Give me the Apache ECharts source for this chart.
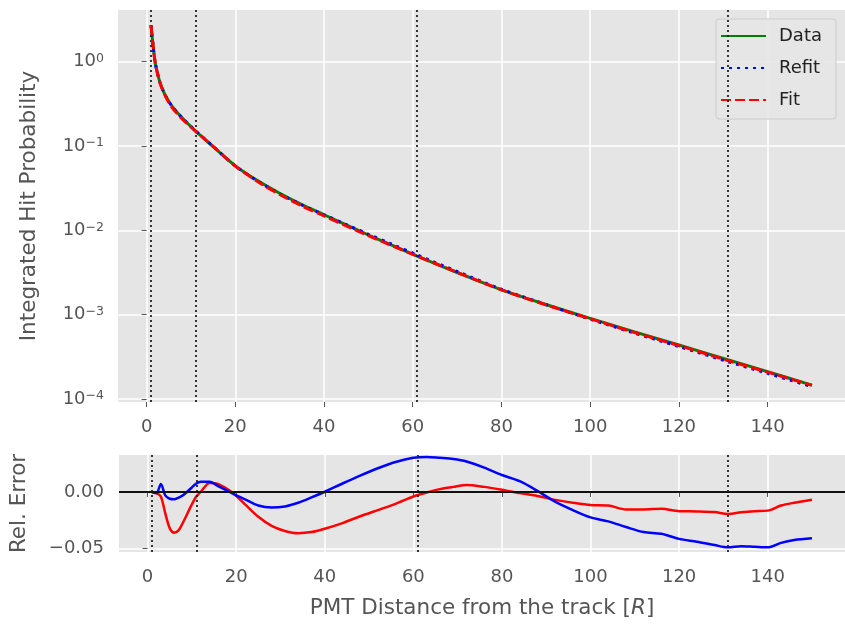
<!DOCTYPE html>
<html>
<head>
<meta charset="utf-8">
<script src="https://cdn.jsdelivr.net/npm/echarts@6/dist/echarts.min.js"></script>
<style>html,body{margin:0;padding:0;background:#fff;}#c{width:845px;height:624px;}</style>
</head>
<body>
<div id="c"></div>
<script>
// ---- data ----
const xMain = [1, 1.5, 2, 3, 4, 5, 6, 8, 11, 13, 15, 20, 25, 30, 35, 40, 45, 50, 55, 61, 70, 80, 90, 100, 110, 120, 131, 140, 150];
const dataProb = [2.69, 1.48, 0.933, 0.569, 0.422, 0.339, 0.285, 0.216, 0.151, 0.1216, 0.0982, 0.0582, 0.0389, 0.0275, 0.0202, 0.0153, 0.0116, 0.0088, 0.00676, 0.00495, 0.00316, 0.00197, 0.00132, 0.000904, 0.000624, 0.000437, 0.000292, 0.000211, 0.000146];
const refitProb = [2.69, 1.48, 0.932, 0.573, 0.421, 0.337, 0.283, 0.215, 0.152, 0.1227, 0.099, 0.058, 0.0384, 0.0271, 0.020, 0.0153, 0.0117, 0.00897, 0.00694, 0.0051, 0.00325, 0.002, 0.00132, 0.000884, 0.000603, 0.000419, 0.000278, 0.000201, 0.00014];
const fitProb = [2.69, 1.48, 0.932, 0.567, 0.414, 0.328, 0.275, 0.21, 0.1504, 0.1223, 0.099, 0.058, 0.038, 0.0266, 0.0195, 0.0148, 0.0113, 0.00863, 0.00669, 0.00494, 0.00318, 0.00197, 0.00131, 0.000894, 0.000614, 0.00043, 0.000286, 0.000208, 0.000145];

const xErr = [1, 2, 3, 4, 5, 6, 7, 8, 10, 11, 12, 14, 16, 19, 22, 25, 28, 31, 34, 37, 40, 44, 48, 52, 56, 60, 63, 66, 69, 72, 76, 80, 84, 88, 92, 96, 100, 104, 108, 112, 116, 120, 124, 128, 131, 134, 137, 140, 143, 146, 150];
const refitErr = [0, -0.001, 0.007, -0.003, -0.006, -0.0065, -0.005, -0.003, 0.004, 0.0075, 0.009, 0.009, 0.005, -0.001, -0.0065, -0.012, -0.0138, -0.0128, -0.0095, -0.0048, 0.0002, 0.0075, 0.0145, 0.021, 0.0265, 0.0302, 0.031, 0.0302, 0.0292, 0.027, 0.0215, 0.015, 0.0095, 0.001, -0.0085, -0.016, -0.0225, -0.026, -0.031, -0.0355, -0.037, -0.0415, -0.044, -0.047, -0.049, -0.048, -0.0485, -0.049, -0.045, -0.0425, -0.041];
const fitErr = [0, -0.001, -0.004, -0.019, -0.032, -0.036, -0.034, -0.027, -0.011, -0.004, 0.0, 0.008, 0.007, 0.0, -0.011, -0.022, -0.030, -0.0345, -0.0365, -0.0355, -0.0325, -0.0275, -0.0215, -0.016, -0.0105, -0.004, -0.0005, 0.0025, 0.0045, 0.0062, 0.0045, 0.002, -0.001, -0.0035, -0.007, -0.0095, -0.0115, -0.012, -0.0155, -0.0155, -0.0148, -0.017, -0.0172, -0.0178, -0.0195, -0.018, -0.017, -0.0165, -0.012, -0.0095, -0.0068];

const vLines = [1, 11, 61, 131];
const xTickLabels = [0, 20, 40, 60, 80, 100, 120, 140];
const logTickLabels = [1e-4, 1e-3, 1e-2, 1e-1, 1];
const errTickLabels = [-0.05, 0];
const legendNames = ['Data', 'Refit', 'Fit'];

// ---- build ----
const pairs = (xs, ys) => xs.map((x, i) => [x, ys[i]]);
const FONT = 'DejaVu Sans';
const GREY = '#555555';

function logLabel(v) {
  const l = Math.log10(v);
  const e = Math.round(l);
  if (Math.abs(l - e) > 1e-6) return '';
  return '{b|10}{s|' + String(e).replace('-', '−') + '}';
}
function xLabel(v) {
  for (const t of xTickLabels) if (Math.abs(v - t) < 1e-6) return String(t);
  return '';
}
function errLabel(v) {
  for (const t of errTickLabels) if (Math.abs(v - t) < 1e-9) return t.toFixed(2).replace('-', '−');
  return '';
}

const xCommon = {
  type: 'value', min: -6.45, max: 157.45, splitNumber: 8,
  axisLine: {show: false},
  axisTick: {show: true, length: 5, customValues: xTickLabels, lineStyle: {color: GREY, width: 1}},
  splitLine: {show: true, lineStyle: {color: '#ffffff', width: 1.5}},
  axisLabel: {formatter: xLabel, customValues: xTickLabels, color: GREY, fontFamily: FONT, fontSize: 18, margin: 16}
};

const vMark = {
  silent: true, symbol: ['none', 'none'], animation: false,
  label: {show: false},
  lineStyle: {color: '#222', type: [2, 3], width: 1.8},
  data: vLines.map(v => ({xAxis: v}))
};

const curveCommon = {type: 'line', xAxisIndex: 0, yAxisIndex: 0, symbol: 'none', smooth: 0.3};
const errCommon = {type: 'line', xAxisIndex: 1, yAxisIndex: 1, symbol: 'none', smooth: 0.3};

const option = {
  backgroundColor: '#ffffff',
  animation: false,
  grid: [
    {left: 118, top: 10, width: 730, height: 392, show: true, backgroundColor: '#e5e5e5', borderWidth: 0},
    {left: 118, top: 455, width: 730, height: 97, show: true, backgroundColor: '#e5e5e5', borderWidth: 0}
  ],
  legend: {
    data: legendNames, orient: 'vertical', left: 716, top: 19,
    itemWidth: 45, itemHeight: 14, itemGap: 14,
    padding: [8, 14, 10, 4],
    itemStyle: {opacity: 0},
    backgroundColor: 'rgba(229,229,229,0.9)', borderColor: '#cccccc', borderWidth: 1, borderRadius: 3,
    textStyle: {fontFamily: FONT, fontSize: 18, color: '#222', padding: [0, 0, 0, 8]}
  },
  xAxis: [
    Object.assign({gridIndex: 0}, xCommon),
    Object.assign({gridIndex: 1}, xCommon, {
      name: '{a|PMT Distance from the track [}{i|R}{a|]}',
      nameLocation: 'middle', nameGap: 45,
      nameTextStyle: {rich: {
        a: {fontFamily: FONT, fontSize: 21.5, color: GREY},
        i: {fontFamily: FONT, fontSize: 21.5, color: GREY, fontStyle: 'italic'}
      }}
    })
  ],
  yAxis: [
    {
      gridIndex: 0, type: 'log', logBase: 10, min: Math.pow(10, -4.036), max: Math.pow(10, 0.613),
      axisLine: {show: false},
      axisTick: {show: true, length: 5, customValues: logTickLabels, lineStyle: {color: GREY, width: 1}},
      splitLine: {show: true, lineStyle: {color: '#ffffff', width: 1.5}},
      axisLabel: {formatter: logLabel, customValues: logTickLabels, margin: 14,
        rich: {
          b: {fontFamily: FONT, fontSize: 18, color: GREY},
          s: {fontFamily: FONT, fontSize: 12.5, color: GREY, verticalAlign: 'top', padding: [0, 0, 6, 0]}
        }},
      name: 'Integrated Hit Probability', nameLocation: 'middle', nameGap: 78,
      nameTextStyle: {fontFamily: FONT, fontSize: 21.5, color: GREY}
    },
    {
      gridIndex: 1, type: 'value', min: -0.0531, max: 0.0327, splitNumber: 2,
      axisLine: {show: false},
      axisTick: {show: true, length: 5, customValues: errTickLabels, lineStyle: {color: GREY, width: 1}},
      splitLine: {show: true, lineStyle: {color: '#ffffff', width: 1.5}},
      axisLabel: {formatter: errLabel, customValues: errTickLabels, color: GREY, fontFamily: FONT, fontSize: 18, margin: 15},
      name: 'Rel. Error', nameLocation: 'middle', nameGap: 89,
      nameTextStyle: {fontFamily: FONT, fontSize: 21.5, color: GREY}
    }
  ],
  series: [
    Object.assign({name: 'Data', data: pairs(xMain, dataProb), color: '#008000',
      lineStyle: {color: '#008000', width: 3}, z: 3}, curveCommon),
    Object.assign({name: 'Refit', data: pairs(xMain, refitProb), color: '#0000ff',
      lineStyle: {color: '#0000ff', width: 3, type: [3, 5]}, z: 4}, curveCommon),
    Object.assign({name: 'Fit', data: pairs(xMain, fitProb), color: '#ff0000',
      lineStyle: {color: '#ff0000', width: 3, type: [10, 4]}, z: 5}, curveCommon),
    {name: 'vlines-top', type: 'line', xAxisIndex: 0, yAxisIndex: 0, data: [], symbol: 'none', z: 6, markLine: vMark},
    Object.assign({name: 'fitErr', data: pairs(xErr, fitErr), color: '#ff0000',
      lineStyle: {color: '#ff0000', width: 2.5}, z: 3}, errCommon),
    Object.assign({name: 'refitErr', data: pairs(xErr, refitErr), color: '#0000ff',
      lineStyle: {color: '#0000ff', width: 2.5}, z: 4}, errCommon),
    {name: 'vlines-bottom', type: 'line', xAxisIndex: 1, yAxisIndex: 1, data: [], symbol: 'none', z: 6, markLine: vMark},
    {name: 'zero', type: 'line', xAxisIndex: 1, yAxisIndex: 1, data: [], symbol: 'none', z: 7,
      markLine: {silent: true, symbol: ['none', 'none'], animation: false, label: {show: false},
        lineStyle: {color: '#111', type: 'solid', width: 1.8}, data: [{yAxis: 0}]}}
  ]
};

const chart = echarts.init(document.getElementById('c'), null, {renderer: 'canvas'});
chart.setOption(option);
</script>
</body>
</html>
